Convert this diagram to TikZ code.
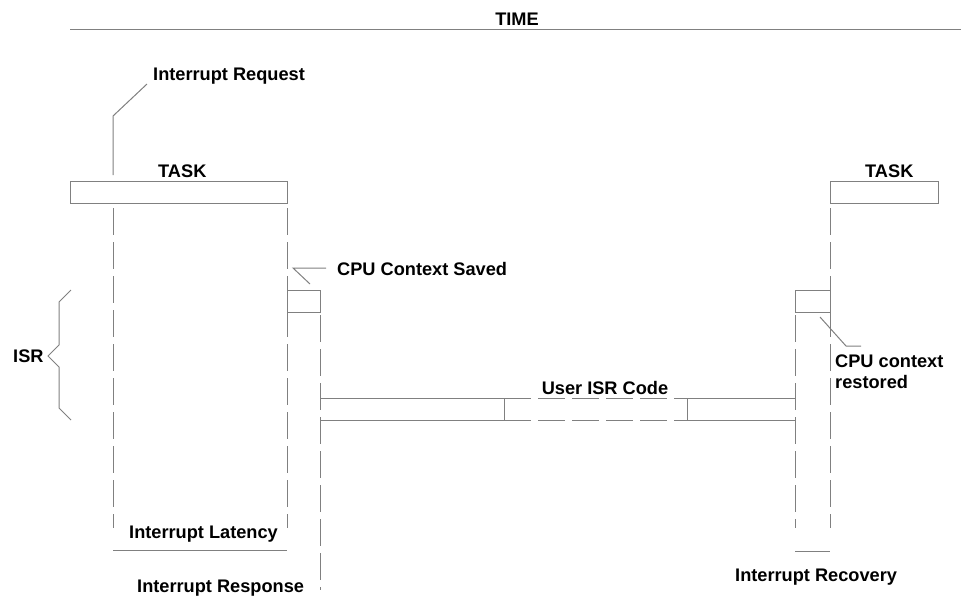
\documentclass[tikz,border=0pt]{standalone}
\usepackage{fontspec}
\setmainfont{Liberation Sans}
\usepackage{tikz}

\begin{document}
\begin{tikzpicture}[x=1pt,y=-1pt,
    lbl/.style={font=\bfseries\fontsize{18.2}{21}\selectfont, inner sep=0pt, anchor=base west},
    ln/.style={draw=black!50, line width=1pt},
    dln/.style={ln, dash pattern=on 27pt off 7pt}]

\useasboundingbox (0,0) rectangle (961,603);

%% time axis
\draw[ln] (70,29) -- (961,29);
\node[lbl, anchor=base] (time) at (517,25) {TIME};

%% task boxes
\draw[ln] (70,181) rectangle (287,203);    %% task left
\draw[ln] (830,181) rectangle (938,203);   %% task right
\node[lbl] (taskl) at (158,177) {TASK};
\node[lbl] (taskr) at (865,177) {TASK};

%% context boxes
\draw[ln] (287,290) rectangle (320,312);   %% saved
\draw[ln] (795,290) rectangle (830,312);   %% restored

%% user isr code bar
\draw[ln] (320,398) -- (504,398) -- (504,420) -- (320,420);
\draw[dln] (504,398) -- (687,398);
\draw[dln] (504,420) -- (687,420);
\draw[ln] (687,398) -- (795,398);
\draw[ln] (687,398) -- (687,420) -- (795,420);
\node[lbl, anchor=base] (isrcode) at (605,394) {User ISR Code};

%% dashed time marks
\draw[dln] (113,208) -- (113,528);   %% request
\draw[dln] (287,208) -- (287,528);   %% task end
\draw[dln] (320,315) -- (320,590);   %% isr start
\draw[dln] (795,315) -- (795,528);   %% isr end
\draw[dln] (830,208) -- (830,528);   %% task resume

%% leaders
\draw[ln] (113,175) -- (113,116) -- (147,84);   %% request
\draw[ln] (310,284) -- (293,268) -- (326,268);  %% saved
\draw[ln] (820,317) -- (846,346) -- (861,346);  %% restored
\node[lbl] (irq) at (153,80) {Interrupt Request};
\node[lbl] (saved) at (337,275) {CPU Context Saved};
\node[lbl] (rstA) at (835,367) {CPU context};
\node[lbl] (rstB) at (835,388) {restored};

%% isr brace
\draw[ln] (71,290) -- (59,302) -- (59,345) -- (48,356) -- (59,367) -- (59,408) -- (71,420);
\node[lbl] (isr) at (13,362) {ISR};

%% intervals
\draw[ln] (113,550) -- (287,550);   %% latency
\draw[ln] (795,551) -- (830,551);   %% recovery
\node[lbl] (lat) at (129,538) {Interrupt Latency};
\node[lbl] (resp) at (137,592) {Interrupt Response};
\node[lbl] (rec) at (735,581) {Interrupt Recovery};
\end{tikzpicture}
\end{document}
